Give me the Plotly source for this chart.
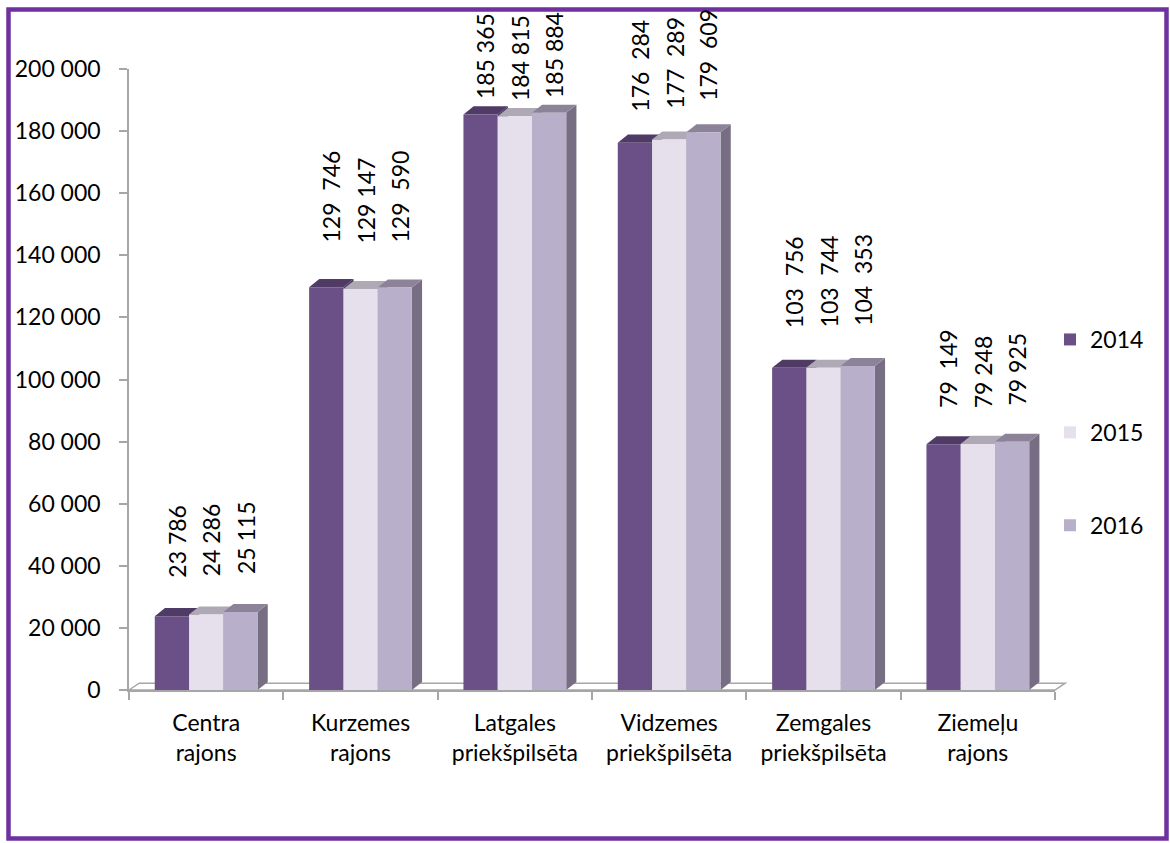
import plotly.graph_objects as go

# ---- data ----
categories = ["Centra<br>rajons", "Kurzemes<br>rajons", "Latgales<br>priekšpilsēta",
              "Vidzemes<br>priekšpilsēta", "Zemgales<br>priekšpilsēta", "Ziemeļu<br>rajons"]
years = ["2014", "2015", "2016"]
values_2014 = [23786, 129746, 185365, 176284, 103756, 79149]
values_2015 = [24286, 129147, 184815, 177289, 103744, 79248]
values_2016 = [25115, 129590, 185884, 179609, 104353, 79925]
labels_2014 = ["23 786", "129\u00a0\u00a0746", "185 365", "176\u00a0\u00a0284", "103\u00a0\u00a0756", "79\u00a0\u00a0149"]
labels_2015 = ["24 286", "129 147", "184 815", "177\u00a0\u00a0289", "103\u00a0\u00a0744", "79 248"]
labels_2016 = ["25 115", "129\u00a0\u00a0590", "185 884", "179\u00a0\u00a0609", "104\u00a0\u00a0353", "79 925"]
y_ticks = [0, 20000, 40000, 60000, 80000, 100000, 120000, 140000, 160000, 180000, 200000]

# ---- styling ----
front_colors = ["#6B5088", "#E6E0EC", "#B8AFCB"]
top_colors = ["#4F3B66", "#AEA9B5", "#8D8399"]
side_colors = ["#4A3760", "#A49FAB", "#776E83"]
FONT = "Lato"
FS = 23
W = 0.222          # bar width in category units
DX = 0.066         # 3D depth in x (category units)
DY = 2600          # 3D depth in y (value units)
XMIN, XMAX = -0.5, 5.5
YMIN, YMAX = 0, 200000
label_gap = [36, 43, 13, 29, 38, 34]   # px between bar top and label

series = [values_2014, values_2015, values_2016]
series_labels = [labels_2014, labels_2015, labels_2016]

fig = go.Figure()
shapes = []
annotations = []

def px(x):
    return (x - XMIN) / (XMAX - XMIN)

def py(y):
    return (y - YMIN) / (YMAX - YMIN)

# floor (paper coords so it can extend past the axis end)
floor_path = (f"M {px(XMIN)},{py(0)} L {px(XMIN + DX)},{py(DY * 0.85)} "
              f"L {px(XMAX + DX)},{py(DY * 0.85)} L {px(XMAX)},{py(0)} Z")
shapes.append(dict(type="path", path=floor_path, xref="paper", yref="paper",
                   line=dict(color="#A6A6A6", width=1.5), fillcolor="white", layer="below"))

for k, (vals, name) in enumerate(zip(series, years)):
    xs = [i + (k - 1) * W for i in range(len(categories))]
    fig.add_trace(go.Bar(
        x=xs, y=vals, width=W, name=name,
        marker=dict(color=front_colors[k], line=dict(width=0)),
        legendgroup=name, hoverinfo="skip",
    ))
    for i, (x, v) in enumerate(zip(xs, vals)):
        x0, x1 = x - W / 2, x + W / 2
        top = f"M {x0},{v} L {x1},{v} L {x1 + DX},{v + DY} L {x0 + DX},{v + DY} Z"
        side = f"M {x1},{0} L {x1 + DX},{DY} L {x1 + DX},{v + DY} L {x1},{v} Z"
        shapes.append(dict(type="path", path=side, xref="x", yref="y",
                           line=dict(width=0), fillcolor=side_colors[k], layer="below"))
        shapes.append(dict(type="path", path=top, xref="x", yref="y",
                           line=dict(width=0), fillcolor=top_colors[k], layer="below"))
        annotations.append(dict(
            x=x + DX / 2, y=v, xref="x", yref="y", text=series_labels[k][i],
            textangle=-90, showarrow=False, xanchor="center", yanchor="bottom",
            yshift=label_gap[i], font=dict(family=FONT, size=FS, color="black"),
        ))

# purple frame
L, R, T, B = 129, 115, 69, 153
pw, ph = 1170 - L - R, 843 - T - B
def fx(p):
    return (p - L) / pw
def fy(p):
    return (843 - B - p) / ph
shapes.append(dict(type="rect", xref="paper", yref="paper",
                   x0=fx(8.5), x1=fx(1166.5), y0=fy(838.5), y1=fy(9.5),
                   line=dict(color="#7030A0", width=4.5), fillcolor="rgba(0,0,0,0)", layer="above"))

fig.update_layout(
    width=1170, height=843,
    margin=dict(l=L, r=R, t=T, b=B, pad=0),
    paper_bgcolor="white", plot_bgcolor="white",
    font=dict(family=FONT, size=FS, color="black"),
    separators=". ",
    barmode="overlay",
    showlegend=True,
    legend=dict(x=fx(1050), xanchor="left", y=fy(318), yanchor="top",
                font=dict(family=FONT, size=FS, color="black"),
                tracegroupgap=60, traceorder="grouped", bgcolor="rgba(0,0,0,0)"),
    shapes=shapes,
    annotations=annotations,
)
fig.update_xaxes(
    range=[XMIN, XMAX], tickmode="array",
    tickvals=list(range(len(categories))), ticktext=categories,
    ticks="", showline=True, linecolor="#A6A6A6", linewidth=1.5,
    showgrid=False, zeroline=False, ticklabelstandoff=12,
    minor=dict(tickmode="array", tickvals=[i - 0.5 for i in range(len(categories) + 1)],
               ticks="outside", ticklen=8, tickcolor="#A6A6A6", tickwidth=1.5, showgrid=False),
    tickfont=dict(family=FONT, size=FS, color="black"),
)
fig.update_yaxes(
    range=[YMIN, YMAX], tickmode="array", tickvals=y_ticks, tickformat=",d",
    ticks="outside", ticklen=8, tickcolor="#A6A6A6", tickwidth=1.5,
    showline=True, linecolor="#A6A6A6", linewidth=1.5,
    showgrid=False, zeroline=False, ticklabelstandoff=14,
    tickfont=dict(family=FONT, size=FS, color="black"),
)

fig.write_html("out.html", config={"displayModeBar": False},
               post_script="document.body.style.margin='0';")
